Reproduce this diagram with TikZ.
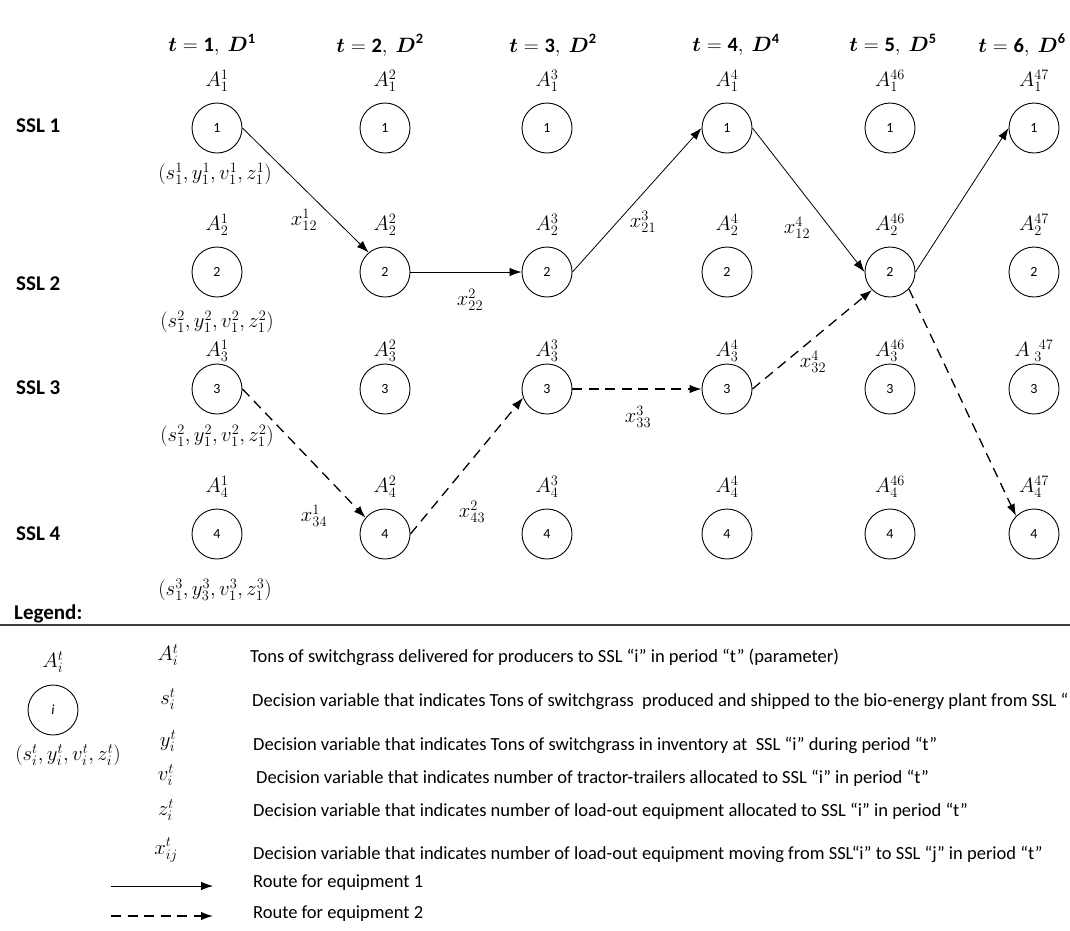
\documentclass[tikz,border=0pt]{standalone}
\usepackage{amsmath}
\usepackage{fontspec}
\setmainfont{Carlito}
\usetikzlibrary{arrows.meta}
\tikzset{
  stn/.style={circle,draw,line width=0.9pt,minimum size=50pt,inner sep=0pt,font=\fontsize{14}{16}\selectfont},
  hdr/.style={font=\fontsize{20.5}{24}\selectfont,inner sep=0pt},
  lbl/.style={font=\fontsize{20}{23}\selectfont,inner sep=0pt},
  tpl/.style={font=\fontsize{20.5}{23}\selectfont,inner sep=0pt},
  xlb/.style={font=\fontsize{21}{24}\selectfont,inner sep=0pt},
  sslb/.style={font=\fontsize{21}{24}\selectfont\bfseries,anchor=west,inner sep=0pt},
  dsc/.style={font=\fontsize{18.5}{21}\selectfont,anchor=west,inner sep=0pt},
  eqa/.style={line width=0.8pt,-{Latex[length=12pt,width=8.5pt]}},
  eqb/.style={line width=1.3pt,dash pattern=on 10pt off 6.5pt,-{Latex[length=12pt,width=8.5pt]}},
}
\newcommand{\hd}[2]{$\boldsymbol{t}=\mathbf{#1},\ \boldsymbol{D}^{\mathbf{#2}}$}
\begin{document}
\begin{tikzpicture}[x=1pt,y=-1pt]
\path[use as bounding box,fill=white] (0,0) rectangle (1070,930);

% headers
\node[hdr] (h1) at (212,45) {\hd{1}{1}};
\node[hdr] (h2) at (380,45) {\hd{2}{2}};
\node[hdr] (h3) at (553,45) {\hd{3}{2}};
\node[hdr] (h4) at (736,45) {\hd{4}{4}};
\node[hdr] (h5) at (893,45) {\hd{5}{5}};
\node[hdr] (h6) at (1022,45) {\hd{6}{6}};

% row labels
\node[sslb] (s1) at (16,126) {SSL 1};
\node[sslb] (s2) at (16,284) {SSL 2};
\node[sslb] (s3) at (16,388) {SSL 3};
\node[sslb] (s4) at (16,534) {SSL 4};

% circles
\foreach \c/\x in {1/217,2/385,3/547,4/727,5/890,6/1034}{
  \foreach \r/\y in {1/128,2/272,3/389,4/534}{
    \node[stn] (n\c\r) at (\x,\y) {\r};
  }
}

% A labels
\foreach \c/\x/\t in {1/217/1,2/385/2,3/547/3,4/727/4,5/890/46,6/1034/47}{
  \foreach \r/\y in {1/81,2/225,4/487}{
    \node[lbl] (a\c\r) at (\x,\y) {$A_{\r}^{\t}$};
  }
}
\foreach \c/\x/\t in {1/217/1,2/385/2,3/547/3,4/727/4,5/890/46}{
  \node[lbl] (a\c3) at (\x,351) {$A_{3}^{\t}$};
}
\node[lbl] (a63) at (1034,351) {$A\ _{3}^{\ 47}$};

% tuples
\node[tpl] (p1) at (215,174) {$(s_1^1, y_1^1, v_1^1, z_1^1)$};
\node[tpl] (p2) at (217,322) {$(s_1^2, y_1^2, v_1^2, z_1^2)$};
\node[tpl] (p3) at (217,436) {$(s_1^2, y_1^2, v_1^2, z_1^2)$};
\node[tpl] (p4) at (215,590) {$(s_1^3, y_3^3, v_1^3, z_1^3)$};

% equipment 1 route
\draw[eqa] (n11.east) -- (n22.130);
\draw[eqa] (n22.east) -- (n32.west);
\draw[eqa] (n32.east) -- (n41.west);
\draw[eqa] (n41.east) -- (n52.west);
\draw[eqa] (n52.east) -- (n61.west);

% equipment 2 route
\draw[eqb] (n13.east) -- (n24.140);
\draw[eqb] (n24.east) -- (n33.200);
\draw[eqb] (n33.east) -- (n43.west);
\draw[eqb] (n43.east) -- (n52.225);
\draw[eqb] (n52.-42) -- (n64.135);

% flow labels
\node[xlb] (x1) at (304,220) {$x_{12}^{1}$};
\node[xlb] (x2) at (470,300) {$x_{22}^{2}$};
\node[xlb] (x3) at (643,222) {$x_{21}^{3}$};
\node[xlb] (x4) at (797,228) {$x_{12}^{4}$};
\node[xlb] (x5) at (314,516) {$x_{34}^{1}$};
\node[xlb] (x6) at (472,512) {$x_{43}^{2}$};
\node[xlb] (x7) at (638,417) {$x_{33}^{3}$};
\node[xlb] (x8) at (813,362) {$x_{32}^{4}$};

% legend
\node[sslb] (legt) at (14,614) {Legend:};
\coordinate (ll) at (0,625);
\coordinate (lr) at (1070,625);
\draw[line width=1.4pt,black!75] (ll) -- (lr);

\node[lbl] (la) at (53,662) {$A_i^t$};
\node[stn] (lc) at (53,710) {\textit{i}};
\node[tpl] (lt) at (68,755) {$(s_i^t, y_i^t, v_i^t, z_i^t)$};

\node[lbl] (sa) at (168,655) {$A_i^t$};
\node[lbl] (ss) at (168,699) {$s_i^t$};
\node[lbl] (sy) at (168,741) {$y_i^t$};
\node[lbl] (sv) at (166,775) {$v_i^t$};
\node[lbl] (sz) at (166,810) {$z_i^t$};
\node[lbl] (sx) at (166,850) {$x_{ij}^t$};

\node[dsc] (da) at (250,657) {Tons of switchgrass delivered for producers to SSL “i” in period “t” (parameter)};
\node[dsc] (dsd) at (252,701) {Decision variable that indicates Tons of switchgrass\ \ produced and shipped to the bio-energy plant from SSL “};
\node[dsc] (dy) at (253,745) {Decision variable that indicates Tons of switchgrass in inventory at\ \ SSL “i” during period “t”};
\node[dsc] (dv) at (256,778) {Decision variable that indicates number of tractor-trailers allocated to SSL “i” in period “t”};
\node[dsc] (dz) at (253,811) {Decision variable that indicates number of load-out equipment allocated to SSL “i” in period “t”};
\node[dsc] (dx) at (253,854) {Decision variable that indicates number of load-out equipment moving from SSL“i” to SSL “j” in period “t”};
\node[dsc] (r1) at (253,883) {Route for equipment 1};
\node[dsc] (r2) at (253,914) {Route for equipment 2};

\coordinate (r1s) at (111,886);
\coordinate (r1e) at (213,886);
\coordinate (r2s) at (111,916);
\coordinate (r2e) at (213,916);
\draw[eqa] (r1s) -- (r1e);
\draw[eqb] (r2s) -- (r2e);
\end{tikzpicture}
\end{document}
